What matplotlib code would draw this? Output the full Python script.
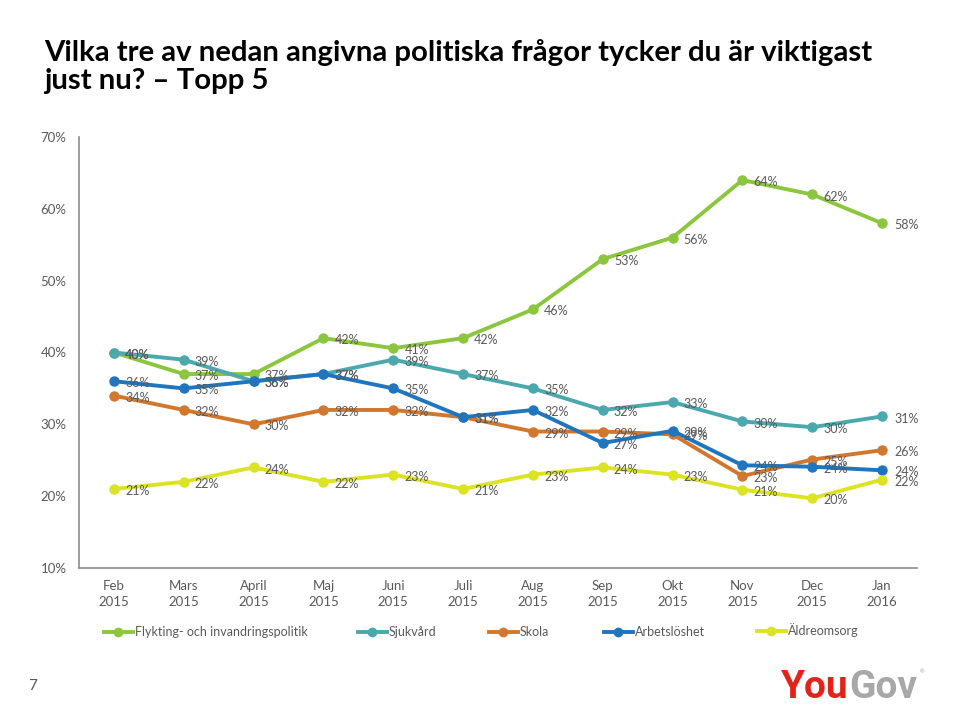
import matplotlib
matplotlib.use("Agg")
import matplotlib.pyplot as plt
from matplotlib.lines import Line2D

months = ["Feb\n2015", "Mars\n2015", "April\n2015", "Maj\n2015", "Juni\n2015", "Juli\n2015",
          "Aug\n2015", "Sep\n2015", "Okt\n2015", "Nov\n2015", "Dec\n2015", "Jan\n2016"]

flykting = [40, 37, 37, 42, 40.6, 42, 46, 53, 56, 64, 62, 58]
sjukvard = [40, 39, 36, 37, 39, 37, 35, 32, 33.1, 30.4, 29.6, 31.1]
skola = [34, 32, 30, 32, 32, 31, 29, 29, 28.6, 22.8, 25.1, 26.4]
arbetsloshet = [36, 35, 36, 37, 35, 31, 32, 27.4, 29.1, 24.3, 24.1, 23.6]
aldreomsorg = [21, 22, 24, 22, 23, 21, 23, 24, 23, 20.9, 19.7, 22.3]

series_names = ["Flykting- och invandringspolitik", "Sjukvård", "Skola", "Arbetslöshet", "Äldreomsorg"]
series_vals = [flykting, sjukvard, skola, arbetsloshet, aldreomsorg]
colors = ["#8cc63f", "#4ba8ac", "#d2772e", "#1f75be", "#dbe324"]

yticks = [10, 20, 30, 40, 50, 60, 70]

FONT = ["Lato", "DejaVu Sans"]
GRAY = "#595959"

fig = plt.figure(figsize=(9.6, 7.06), dpi=100)
W, H = 960, 706
ax = fig.add_axes([79 / W, (H - 568) / H, (917 - 79) / W, (568 - 137) / H])

x = list(range(len(months)))
draw_order = [4, 2, 3, 1, 0]
for i in draw_order:
    ax.plot(x, series_vals[i], color=colors[i], lw=2.8, marker="o", ms=6.5,
            solid_capstyle="round", zorder=3 + i * 0.1)

for i in range(len(series_vals)):
    for xi, v in zip(x, series_vals[i]):
        dx = 8 if xi < len(x) - 1 else 9
        ax.annotate(f"{round(v)}%", (xi, v), xytext=(dx, -1.5), textcoords="offset points",
                    ha="left", va="center", fontsize=9, color=GRAY, family=FONT, zorder=6)

ax.set_xlim(-0.5, len(months) - 0.5)
ax.set_ylim(10, 70)
ax.set_yticks(yticks)
ax.set_yticklabels([f"{t}%" for t in yticks], family=FONT, fontsize=9.5, color=GRAY)
ax.set_xticks(x)
ax.set_xticklabels(months, family=FONT, fontsize=9.5, color=GRAY, linespacing=1.4)
ax.tick_params(axis="both", length=0)
ax.tick_params(axis="y", pad=9)
ax.tick_params(axis="x", pad=9)
for s in ["top", "right"]:
    ax.spines[s].set_visible(False)
for s in ["left", "bottom"]:
    ax.spines[s].set_color("#8c8c8c")
    ax.spines[s].set_linewidth(1.2)

# legend entries placed individually
leg_x = [104, 358, 489, 604, 757]
leg_y = [632, 632, 632, 632, 630]
for i, lx in enumerate(leg_x):
    h = Line2D([0], [0], color=colors[i], lw=2.8, marker="o", ms=6)
    lg = fig.legend([h], [series_names[i]], loc="center left",
                    bbox_to_anchor=(lx / W, (H - leg_y[i]) / H), frameon=False,
                    prop={"family": FONT, "size": 9}, handlelength=2.3, handletextpad=0.15,
                    borderaxespad=0, borderpad=0)
    for t in lg.get_texts():
        t.set_color(GRAY)

fig.text(44 / W, (H - 52) / H, "Vilka tre av nedan angivna politiska frågor tycker du är viktigast",
         family=FONT, fontweight="bold", fontsize=21.2, color="black", va="center", ha="left")
fig.text(44 / W, (H - 81) / H, "just nu? – Topp 5",
         family=FONT, fontweight="bold", fontsize=21.2, color="black", va="center", ha="left")

fig.text(33 / W, (H - 686) / H, "7", family=FONT, fontsize=11, color=GRAY, ha="center", va="center")

LOGO = ["Liberation Sans Narrow", "Roboto", "DejaVu Sans"]
fig.text(849 / W, (H - 688) / H, "You", family=LOGO,
         fontweight="bold", fontsize=28, color="#e2231a", ha="right", va="center")
fig.text(849 / W, (H - 688) / H, "Gov", family=LOGO,
         fontweight="bold", fontsize=28, color="#a8a8a8", ha="left", va="center")
fig.text(922 / W, (H - 672) / H, "®", family=FONT, fontsize=4, color="#a8a8a8", ha="center", va="center")

fig.savefig("out.png", dpi=100)
